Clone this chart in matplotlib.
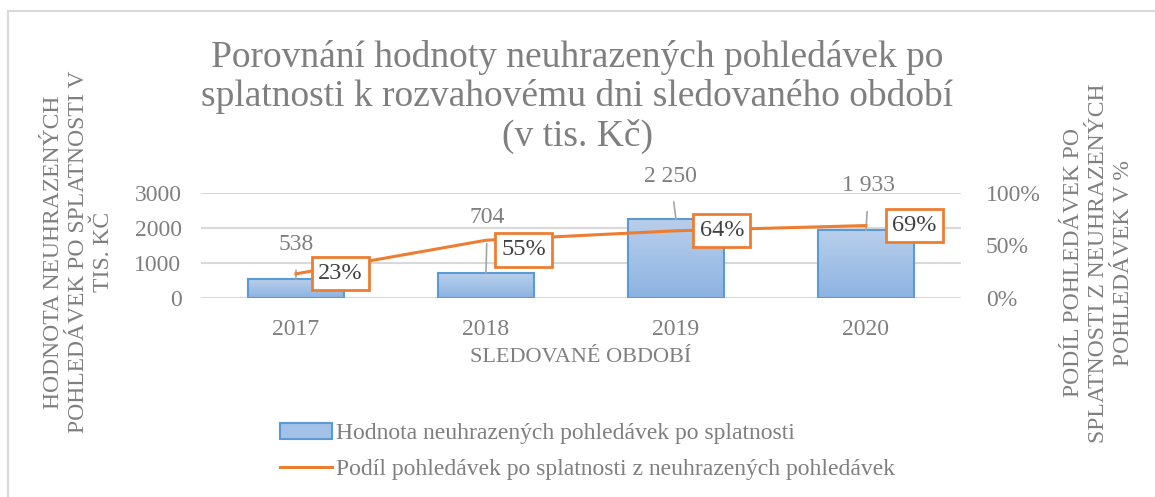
import matplotlib
matplotlib.use("Agg")
import matplotlib.pyplot as plt
import numpy as np
from matplotlib.colors import LinearSegmentedColormap
from matplotlib.lines import Line2D
from matplotlib.patches import Patch

years = ["2017", "2018", "2019", "2020"]
values = [538, 704, 2250, 1933]
value_labels = ["538", "704", "2 250", "1 933"]
shares = [0.23, 0.55, 0.64, 0.69]
share_labels = ["23%", "55%", "64%", "69%"]

# label offsets (points) relative to bar top / line point
bar_label_offsets = [(0, 25), (1, 40), (-4, 31), (2, 32)]
share_label_offsets = [(32, 0), (27, -7), (33, 0), (35, 0)]

GRAY = "#7f7f7f"
ORANGE = "#ed7d31"
BLUE_EDGE = "#5b9bd5"

plt.rcParams["font.family"] = ["Liberation Serif", "DejaVu Serif"]

fig = plt.figure(figsize=(11.55, 4.97), dpi=100)
ax = fig.add_axes([0.174, 0.4004, 0.658, 0.2113])
ax2 = ax.twinx()

x = np.arange(len(years))
width = 0.51
cmap = LinearSegmentedColormap.from_list("bar", ["#8db3e2", "#b8cfeb"])
grad = np.linspace(0, 1, 100).reshape(-1, 1)
bars = ax.bar(x, values, width=width, facecolor="none", edgecolor=BLUE_EDGE, linewidth=1.5, zorder=3)
for b in bars:
    x0, y0 = b.get_x(), b.get_y()
    im = ax.imshow(grad, extent=[x0, x0 + b.get_width(), y0, y0 + b.get_height()],
                   aspect="auto", cmap=cmap, origin="lower", zorder=2)
    im.set_clip_path(b)

ax.set_xlim(-0.5, len(years) - 0.5)
ax.set_ylim(0, 3000)
ax.set_yticks([0, 1000, 2000, 3000])
ax.set_xticks(x, years)
ax.grid(axis="y", color="#d9d9d9", linewidth=1.5, zorder=0)
ax.set_axisbelow(True)
for s in ax.spines.values():
    s.set_visible(False)
for s in ax2.spines.values():
    s.set_visible(False)
ax.tick_params(axis="y", length=0, labelsize=17, labelcolor=GRAY, pad=14)
ax.tick_params(axis="x", length=0, labelsize=17, labelcolor=GRAY, pad=15)

for xi, v, lab, off in zip(x, values, value_labels, bar_label_offsets):
    ax.annotate(lab, xy=(xi, v), xytext=off, textcoords="offset points",
                ha="center", va="center", fontsize=17, color=GRAY,
                arrowprops=dict(arrowstyle="-", color="#a6a6a6", lw=1.2,
                                shrinkA=9, shrinkB=0), zorder=4)

ax2.plot(x, shares, color=ORANGE, linewidth=2.2, zorder=5)
ax2.set_ylim(0, 1)
ax2.set_yticks([0, 0.5, 1], ["0%", "50%", "100%"])
ax2.tick_params(length=0, labelsize=17, labelcolor=GRAY, pad=18)
for xi, v, lab, off in zip(x, shares, share_labels, share_label_offsets):
    ax2.annotate(lab, xy=(xi, v), xytext=off, textcoords="offset points",
                 ha="center", va="center", fontsize=17.5, color="#404040",
                 bbox=dict(boxstyle="square,pad=0.25", fc="white", ec=ORANGE, lw=2),
                 zorder=6)

ax.set_xlabel("SLEDOVANÉ OBDOBÍ", fontsize=16, color=GRAY, labelpad=6)

fig.text(0.5, 0.805, "Porovnání hodnoty neuhrazených pohledávek po\n"
         "splatnosti k rozvahovému dni sledovaného období\n(v tis. Kč)",
         ha="center", va="center", fontsize=27, color=GRAY, linespacing=1.17)

fig.text(0.068, 0.493, "HODNOTA NEUHRAZENÝCH\nPOHLEDÁVEK PO SPLATNOSTI V\nTIS. KČ",
         rotation=90, ha="center", va="center", multialignment="center",
         fontsize=17, color=GRAY, linespacing=1.25)
fig.text(0.951, 0.471, "PODÍL POHLEDÁVEK PO\nSPLATNOSTI Z NEUHRAZENÝCH\nPOHLEDÁVEK V %",
         rotation=90, ha="center", va="center", multialignment="center",
         fontsize=17, color=GRAY, linespacing=1.25)

handles = [Patch(facecolor="#a4c2e8", edgecolor=BLUE_EDGE, linewidth=1.5),
           Line2D([0], [0], color=ORANGE, linewidth=2.2)]
fig.legend(handles, ["Hodnota neuhrazených pohledávek po splatnosti",
                     "Podíl pohledávek po splatnosti z neuhrazených pohledávek"],
           loc="upper left", bbox_to_anchor=(0.234, 0.168), frameon=False,
           fontsize=17, labelcolor=GRAY, handlelength=2.2, handletextpad=0.2,
           labelspacing=0.6, borderaxespad=0)

# chart frame (left and top edges visible)
fig.add_artist(Line2D([0.007, 0.007], [0, 0.978], color="#d9d9d9", linewidth=1.5))
fig.add_artist(Line2D([0.007, 1], [0.978, 0.978], color="#d9d9d9", linewidth=1.5))

fig.savefig("out.png", dpi=100, facecolor="white")
